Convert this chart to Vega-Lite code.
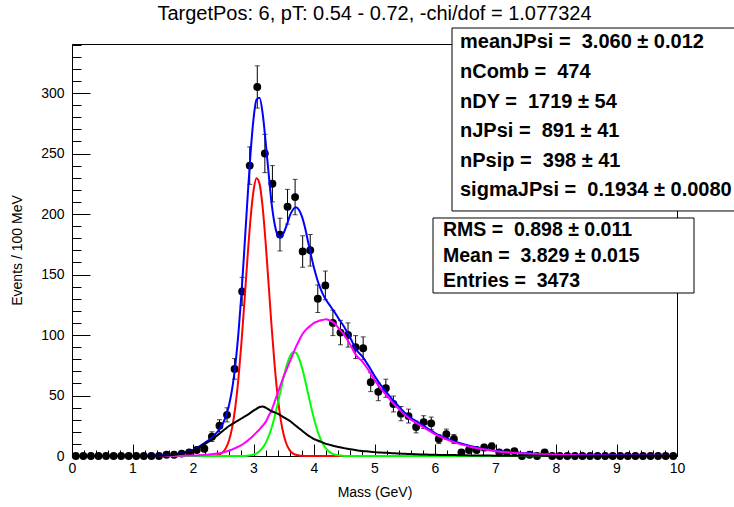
{
  "$schema": "https://vega.github.io/schema/vega-lite/v6.json",
  "autosize": "none",
  "width": 605,
  "height": 412,
  "padding": {"left": 72, "top": 44, "right": 57, "bottom": 51},
  "background": "white",
  "title": {"text": "TargetPos: 6, pT: 0.54 - 0.72, -chi/dof = 1.077324", "fontSize": 20, "fontWeight": "normal", "font": "Liberation Sans", "color": "black", "frame": "group", "anchor": "middle", "baseline": "alphabetic", "offset": 7, "dy": 19},
  "config": {
    "font": "Liberation Sans",
    "view": {"stroke": "black", "strokeWidth": 1},
    "axis": {"domainColor": "black", "tickColor": "black", "labelColor": "black", "titleColor": "black", "grid": false, "labelFont": "Liberation Sans", "titleFont": "Liberation Sans", "labelFontSize": 14, "titleFontSize": 14, "titleFontWeight": "normal", "tickWidth": 1, "domainWidth": 1, "labelFlush": false, "labelOverlap": false}
  },
  "datasets": {
    "hist": [
      {"m": 0.0625, "n": 0, "e": 0}, {"m": 0.1875, "n": 0, "e": 0}, {"m": 0.3125, "n": 0, "e": 0}, {"m": 0.4375, "n": 0, "e": 0},
      {"m": 0.5625, "n": 0, "e": 0}, {"m": 0.6875, "n": 0, "e": 0}, {"m": 0.8125, "n": 0, "e": 0}, {"m": 0.9375, "n": 0, "e": 0},
      {"m": 1.0625, "n": 0, "e": 0}, {"m": 1.1875, "n": 0, "e": 0}, {"m": 1.3125, "n": 0, "e": 0}, {"m": 1.4375, "n": 0, "e": 0},
      {"m": 1.5625, "n": 1, "e": 1}, {"m": 1.6875, "n": 1, "e": 1}, {"m": 1.8125, "n": 2, "e": 1.414}, {"m": 1.9375, "n": 3, "e": 1.732},
      {"m": 2.0625, "n": 5, "e": 2.236}, {"m": 2.1875, "n": 6, "e": 2.449}, {"m": 2.3125, "n": 16, "e": 4}, {"m": 2.4375, "n": 25, "e": 5},
      {"m": 2.5625, "n": 34, "e": 5.831}, {"m": 2.6875, "n": 72, "e": 8.485}, {"m": 2.8125, "n": 136, "e": 11.662}, {"m": 2.9375, "n": 240, "e": 15.492},
      {"m": 3.0625, "n": 305, "e": 17.464}, {"m": 3.1875, "n": 250, "e": 15.811}, {"m": 3.3125, "n": 225, "e": 15}, {"m": 3.4375, "n": 183, "e": 13.528},
      {"m": 3.5625, "n": 206, "e": 14.353}, {"m": 3.6875, "n": 214, "e": 14.629}, {"m": 3.8125, "n": 169, "e": 13}, {"m": 3.9375, "n": 170, "e": 13.038},
      {"m": 4.0625, "n": 130, "e": 11.402}, {"m": 4.1875, "n": 141, "e": 11.874}, {"m": 4.3125, "n": 110, "e": 10.488}, {"m": 4.4375, "n": 102, "e": 10.1},
      {"m": 4.5625, "n": 100, "e": 10}, {"m": 4.6875, "n": 90, "e": 9.487}, {"m": 4.8125, "n": 89, "e": 9.434}, {"m": 4.9375, "n": 61, "e": 7.81},
      {"m": 5.0625, "n": 53, "e": 7.28}, {"m": 5.1875, "n": 56, "e": 7.483}, {"m": 5.3125, "n": 43, "e": 6.557}, {"m": 5.4375, "n": 35, "e": 5.916},
      {"m": 5.5625, "n": 33, "e": 5.745}, {"m": 5.6875, "n": 24, "e": 4.899}, {"m": 5.8125, "n": 28, "e": 5.292}, {"m": 5.9375, "n": 27, "e": 5.196},
      {"m": 6.0625, "n": 14, "e": 3.742}, {"m": 6.1875, "n": 18, "e": 4.243}, {"m": 6.3125, "n": 14, "e": 3.742}, {"m": 6.4375, "n": 3, "e": 1.732},
      {"m": 6.5625, "n": 5, "e": 2.236}, {"m": 6.6875, "n": 5, "e": 2.236}, {"m": 6.8125, "n": 7, "e": 2.646}, {"m": 6.9375, "n": 8, "e": 2.828},
      {"m": 7.0625, "n": 3, "e": 1.732}, {"m": 7.1875, "n": 3, "e": 1.732}, {"m": 7.3125, "n": 4, "e": 2}, {"m": 7.4375, "n": 0, "e": 0},
      {"m": 7.5625, "n": 1, "e": 1}, {"m": 7.6875, "n": 0, "e": 0}, {"m": 7.8125, "n": 3, "e": 1.732}, {"m": 7.9375, "n": 0, "e": 0},
      {"m": 8.0625, "n": 0, "e": 0}, {"m": 8.1875, "n": 0, "e": 0}, {"m": 8.3125, "n": 0, "e": 0}, {"m": 8.4375, "n": 0, "e": 0},
      {"m": 8.5625, "n": 0, "e": 0}, {"m": 8.6875, "n": 0, "e": 0}, {"m": 8.8125, "n": 0, "e": 0}, {"m": 8.9375, "n": 0, "e": 0},
      {"m": 9.0625, "n": 0, "e": 0}, {"m": 9.1875, "n": 0, "e": 0}, {"m": 9.3125, "n": 0, "e": 0}, {"m": 9.4375, "n": 0, "e": 0},
      {"m": 9.5625, "n": 0, "e": 0}, {"m": 9.6875, "n": 0, "e": 0}, {"m": 9.8125, "n": 0, "e": 0}, {"m": 9.9375, "n": 0, "e": 0}
    ],
    "fit": [
      {"m": 0, "total": 0, "jpsi": 0, "psip": 0, "dy": 0, "comb": 0},
      {"m": 0.5, "total": 0, "jpsi": 0, "psip": 0, "dy": 0, "comb": 0},
      {"m": 1.0, "total": 0.05, "jpsi": 0, "psip": 0, "dy": 0, "comb": 0.05},
      {"m": 1.5, "total": 0.4, "jpsi": 0, "psip": 0, "dy": 0.1, "comb": 0.3},
      {"m": 1.7, "total": 1.2, "jpsi": 0, "psip": 0, "dy": 0.2, "comb": 1},
      {"m": 1.9, "total": 3.4, "jpsi": 0, "psip": 0, "dy": 0.4, "comb": 3},
      {"m": 2.0, "total": 5.0, "jpsi": 0, "psip": 0, "dy": 0.5, "comb": 4.5},
      {"m": 2.1, "total": 7.7, "jpsi": 0, "psip": 0, "dy": 0.7, "comb": 7},
      {"m": 2.2, "total": 11, "jpsi": 0, "psip": 0, "dy": 1, "comb": 10},
      {"m": 2.3, "total": 14.6, "jpsi": 0.1, "psip": 0, "dy": 1.5, "comb": 13},
      {"m": 2.4, "total": 19.7, "jpsi": 0.68, "psip": 0, "dy": 2, "comb": 17},
      {"m": 2.45, "total": 23.1, "jpsi": 1.59, "psip": 0, "dy": 2.5, "comb": 19},
      {"m": 2.5, "total": 27.5, "jpsi": 3.47, "psip": 0, "dy": 3, "comb": 21},
      {"m": 2.55, "total": 33.8, "jpsi": 7.1, "psip": 0, "dy": 3.7, "comb": 23},
      {"m": 2.6, "total": 43.1, "jpsi": 13.6, "psip": 0, "dy": 4.5, "comb": 25},
      {"m": 2.65, "total": 56.3, "jpsi": 24.3, "psip": 0, "dy": 5.5, "comb": 26.5},
      {"m": 2.7, "total": 75.2, "jpsi": 40.7, "psip": 0, "dy": 6.5, "comb": 28},
      {"m": 2.75, "total": 100.8, "jpsi": 63.6, "psip": 0, "dy": 7.7, "comb": 29.5},
      {"m": 2.8, "total": 133.5, "jpsi": 93.1, "psip": 0, "dy": 9, "comb": 31},
      {"m": 2.85, "total": 172, "jpsi": 127.4, "psip": 0.1, "dy": 10.7, "comb": 32.5},
      {"m": 2.9, "total": 212, "jpsi": 163.2, "psip": 0.3, "dy": 12.5, "comb": 34},
      {"m": 2.95, "total": 249.5, "jpsi": 195.5, "psip": 0.6, "dy": 14.7, "comb": 35.7},
      {"m": 3.0, "total": 278.5, "jpsi": 219, "psip": 1.24, "dy": 17, "comb": 37.5},
      {"m": 3.05, "total": 294.5, "jpsi": 229.5, "psip": 2.27, "dy": 19.5, "comb": 39},
      {"m": 3.1, "total": 296, "jpsi": 224.9, "psip": 3.99, "dy": 22, "comb": 40.5},
      {"m": 3.15, "total": 283.5, "jpsi": 206.2, "psip": 6.68, "dy": 25, "comb": 41},
      {"m": 3.2, "total": 260, "jpsi": 176.8, "psip": 10.66, "dy": 28, "comb": 40},
      {"m": 3.25, "total": 233.5, "jpsi": 141.8, "psip": 16.2, "dy": 33, "comb": 38.5},
      {"m": 3.3, "total": 208.5, "jpsi": 106.4, "psip": 23.6, "dy": 38, "comb": 37},
      {"m": 3.35, "total": 191.5, "jpsi": 74.7, "psip": 32.7, "dy": 45, "comb": 36},
      {"m": 3.4, "total": 182.5, "jpsi": 49, "psip": 43.2, "dy": 52, "comb": 35},
      {"m": 3.45, "total": 180.5, "jpsi": 30.1, "psip": 54.4, "dy": 59, "comb": 33.5},
      {"m": 3.5, "total": 184.5, "jpsi": 17.3, "psip": 65.4, "dy": 66, "comb": 32},
      {"m": 3.55, "total": 191, "jpsi": 9.3, "psip": 75.1, "dy": 72, "comb": 30.5},
      {"m": 3.6, "total": 198.5, "jpsi": 4.7, "psip": 82.1, "dy": 78, "comb": 29},
      {"m": 3.65, "total": 203.5, "jpsi": 2.2, "psip": 85.7, "dy": 84, "comb": 27},
      {"m": 3.7, "total": 205.5, "jpsi": 1.0, "psip": 85.3, "dy": 90, "comb": 25},
      {"m": 3.75, "total": 203.5, "jpsi": 0.4, "psip": 81, "dy": 95, "comb": 23},
      {"m": 3.8, "total": 198, "jpsi": 0.15, "psip": 73.3, "dy": 100, "comb": 21},
      {"m": 3.85, "total": 189, "jpsi": 0, "psip": 63.3, "dy": 103.5, "comb": 19},
      {"m": 3.9, "total": 177.5, "jpsi": 0, "psip": 52.2, "dy": 106, "comb": 17},
      {"m": 3.95, "total": 166, "jpsi": 0, "psip": 41, "dy": 108, "comb": 15.5},
      {"m": 4.0, "total": 155.5, "jpsi": 0, "psip": 30.7, "dy": 110, "comb": 14},
      {"m": 4.05, "total": 146.5, "jpsi": 0, "psip": 22, "dy": 111, "comb": 13},
      {"m": 4.1, "total": 139.3, "jpsi": 0, "psip": 15, "dy": 112, "comb": 12},
      {"m": 4.15, "total": 133.4, "jpsi": 0, "psip": 9.7, "dy": 112.5, "comb": 11},
      {"m": 4.2, "total": 129, "jpsi": 0, "psip": 6, "dy": 113, "comb": 10},
      {"m": 4.25, "total": 125.3, "jpsi": 0, "psip": 3.6, "dy": 112.3, "comb": 9.4},
      {"m": 4.3, "total": 121.7, "jpsi": 0, "psip": 2, "dy": 111, "comb": 8.7},
      {"m": 4.35, "total": 118.2, "jpsi": 0, "psip": 1.1, "dy": 109, "comb": 8.1},
      {"m": 4.4, "total": 114.1, "jpsi": 0, "psip": 0.56, "dy": 106, "comb": 7.5},
      {"m": 4.5, "total": 106.6, "jpsi": 0, "psip": 0.1, "dy": 100, "comb": 6.5},
      {"m": 4.6, "total": 97.5, "jpsi": 0, "psip": 0, "dy": 92, "comb": 5.5},
      {"m": 4.7, "total": 87.8, "jpsi": 0, "psip": 0, "dy": 83, "comb": 4.8},
      {"m": 4.8, "total": 82.2, "jpsi": 0, "psip": 0, "dy": 78, "comb": 4.2},
      {"m": 4.9, "total": 74.7, "jpsi": 0, "psip": 0, "dy": 71, "comb": 3.7},
      {"m": 5.0, "total": 66.2, "jpsi": 0, "psip": 0, "dy": 63, "comb": 3.2},
      {"m": 5.1, "total": 58.9, "jpsi": 0, "psip": 0, "dy": 56, "comb": 2.9},
      {"m": 5.2, "total": 52.6, "jpsi": 0, "psip": 0, "dy": 50, "comb": 2.6},
      {"m": 5.3, "total": 46.3, "jpsi": 0, "psip": 0, "dy": 44, "comb": 2.3},
      {"m": 5.4, "total": 41, "jpsi": 0, "psip": 0, "dy": 39, "comb": 2},
      {"m": 5.5, "total": 35.8, "jpsi": 0, "psip": 0, "dy": 34, "comb": 1.8},
      {"m": 5.6, "total": 31.6, "jpsi": 0, "psip": 0, "dy": 30, "comb": 1.6},
      {"m": 5.7, "total": 28.4, "jpsi": 0, "psip": 0, "dy": 27, "comb": 1.4},
      {"m": 5.8, "total": 25.25, "jpsi": 0, "psip": 0, "dy": 24, "comb": 1.25},
      {"m": 5.9, "total": 22.1, "jpsi": 0, "psip": 0, "dy": 21, "comb": 1.1},
      {"m": 6.0, "total": 19, "jpsi": 0, "psip": 0, "dy": 18, "comb": 1},
      {"m": 6.2, "total": 14.35, "jpsi": 0, "psip": 0, "dy": 13.5, "comb": 0.85},
      {"m": 6.4, "total": 10.7, "jpsi": 0, "psip": 0, "dy": 10, "comb": 0.7},
      {"m": 6.6, "total": 8, "jpsi": 0, "psip": 0, "dy": 7.5, "comb": 0.5},
      {"m": 6.8, "total": 5.9, "jpsi": 0, "psip": 0, "dy": 5.5, "comb": 0.4},
      {"m": 7.0, "total": 4.3, "jpsi": 0, "psip": 0, "dy": 4, "comb": 0.3},
      {"m": 7.2, "total": 3.25, "jpsi": 0, "psip": 0, "dy": 3, "comb": 0.25},
      {"m": 7.5, "total": 2.2, "jpsi": 0, "psip": 0, "dy": 2, "comb": 0.2},
      {"m": 8.0, "total": 1.1, "jpsi": 0, "psip": 0, "dy": 1, "comb": 0.1},
      {"m": 8.5, "total": 0.55, "jpsi": 0, "psip": 0, "dy": 0.5, "comb": 0.05},
      {"m": 9.0, "total": 0.32, "jpsi": 0, "psip": 0, "dy": 0.3, "comb": 0.02},
      {"m": 10.0, "total": 0.1, "jpsi": 0, "psip": 0, "dy": 0.1, "comb": 0}
    ]
  },
  "resolve": {"axis": {"x": "independent", "y": "independent"}},
  "layer": [
    {
      "data": {"name": "hist"},
      "transform": [{"filter": "datum.n > 0"}],
      "mark": {"type": "errorbar", "color": "black", "thickness": 1, "ticks": {"size": 5, "color": "black"}},
      "encoding": {
        "x": {"field": "m", "type": "quantitative", "scale": {"domain": [0, 10], "nice": false, "zero": false}, "axis": null},
        "y": {"field": "n", "type": "quantitative", "scale": {"domain": [0, 340.5], "nice": false}, "axis": null},
        "yError": {"field": "e"}
      }
    },
    {
      "data": {"name": "hist"},
      "mark": {"type": "point", "filled": true, "shape": "circle", "size": 62, "color": "black", "opacity": 1},
      "encoding": {
        "x": {"field": "m", "type": "quantitative", "scale": {"domain": [0, 10], "nice": false, "zero": false},
          "axis": {"orient": "bottom", "values": [0, 1, 2, 3, 4, 5, 6, 7, 8, 9, 10], "format": "d", "tickSize": -12, "labelPadding": 17, "title": "Mass (GeV)", "titlePadding": 10}},
        "y": {"field": "n", "type": "quantitative", "scale": {"domain": [0, 340.5], "nice": false},
          "axis": {"orient": "left", "values": [0, 50, 100, 150, 200, 250, 300], "format": "d", "tickSize": -18, "labelPadding": 26, "title": "Events / 100 MeV", "titlePadding": 16}}
      }
    },
    {
      "data": {"name": "fit"},
      "mark": {"type": "line", "color": "#0000ff", "strokeWidth": 2, "interpolate": "monotone"},
      "encoding": {
        "x": {"field": "m", "type": "quantitative", "scale": {"domain": [0, 10], "nice": false, "zero": false},
          "axis": {"orient": "bottom", "values": [0, 0.2, 0.4, 0.6, 0.8, 1, 1.2, 1.4, 1.6, 1.8, 2, 2.2, 2.4, 2.6, 2.8, 3, 3.2, 3.4, 3.6, 3.8, 4, 4.2, 4.4, 4.6, 4.8, 5, 5.2, 5.4, 5.6, 5.8, 6, 6.2, 6.4, 6.6, 6.8, 7, 7.2, 7.4, 7.6, 7.8, 8, 8.2, 8.4, 8.6, 8.8, 9, 9.2, 9.4, 9.6, 9.8, 10], "tickSize": -6, "labels": false, "domain": false, "title": null}},
        "y": {"field": "total", "type": "quantitative", "scale": {"domain": [0, 340.5], "nice": false},
          "axis": {"orient": "left", "values": [0, 10, 20, 30, 40, 50, 60, 70, 80, 90, 100, 110, 120, 130, 140, 150, 160, 170, 180, 190, 200, 210, 220, 230, 240, 250, 260, 270, 280, 290, 300, 310, 320, 330, 340], "tickSize": -9, "labels": false, "domain": false, "title": null}}
      }
    },
    {
      "data": {"name": "fit"},
      "mark": {"type": "line", "color": "#ff0000", "strokeWidth": 2, "interpolate": "monotone"},
      "encoding": {
        "x": {"field": "m", "type": "quantitative", "scale": {"domain": [0, 10], "nice": false, "zero": false}, "axis": null},
        "y": {"field": "jpsi", "type": "quantitative", "scale": {"domain": [0, 340.5], "nice": false}, "axis": null}
      }
    },
    {
      "data": {"name": "fit"},
      "mark": {"type": "line", "color": "#00ff00", "strokeWidth": 2, "interpolate": "monotone"},
      "encoding": {
        "x": {"field": "m", "type": "quantitative", "scale": {"domain": [0, 10], "nice": false, "zero": false}, "axis": null},
        "y": {"field": "psip", "type": "quantitative", "scale": {"domain": [0, 340.5], "nice": false}, "axis": null}
      }
    },
    {
      "data": {"name": "fit"},
      "mark": {"type": "line", "color": "#ff00ff", "strokeWidth": 2, "interpolate": "monotone"},
      "encoding": {
        "x": {"field": "m", "type": "quantitative", "scale": {"domain": [0, 10], "nice": false, "zero": false}, "axis": null},
        "y": {"field": "dy", "type": "quantitative", "scale": {"domain": [0, 340.5], "nice": false}, "axis": null}
      }
    },
    {
      "data": {"name": "fit"},
      "mark": {"type": "line", "color": "#000000", "strokeWidth": 2, "interpolate": "monotone"},
      "encoding": {
        "x": {"field": "m", "type": "quantitative", "scale": {"domain": [0, 10], "nice": false, "zero": false}, "axis": null},
        "y": {"field": "comb", "type": "quantitative", "scale": {"domain": [0, 340.5], "nice": false}, "axis": null}
      }
    },
    {
      "data": {"values": [{}]},
      "mark": {"type": "rect", "fill": "white", "stroke": "black", "strokeWidth": 1},
      "encoding": {
        "x": {"datum": 6.281, "type": "quantitative", "scale": {"domain": [0, 10], "nice": false, "zero": false}, "axis": null},
        "x2": {"datum": 11.2},
        "y": {"datum": 353.7, "type": "quantitative", "scale": {"domain": [0, 340.5], "nice": false}, "axis": null},
        "y2": {"datum": 202.5}
      }
    },
    {
      "data": {"values": [{}]},
      "mark": {"type": "text", "text": ["meanJPsi = \u00a03.060 ± 0.012", "nComb = \u00a0474", "nDY = \u00a01719 ± 54", "nJPsi = \u00a0891 ± 41", "nPsip = \u00a0398 ± 41", "sigmaJPsi = \u00a00.1934 ± 0.0080"], "lineHeight": 29.6, "align": "left", "baseline": "alphabetic", "fontSize": 20, "fontWeight": "bold", "font": "Liberation Sans", "color": "black"},
      "encoding": {
        "x": {"datum": 6.413, "type": "quantitative", "scale": {"domain": [0, 10], "nice": false, "zero": false}, "axis": null},
        "y": {"datum": 336.8, "type": "quantitative", "scale": {"domain": [0, 340.5], "nice": false}, "axis": null}
      }
    },
    {
      "data": {"values": [{}]},
      "mark": {"type": "rect", "fill": "white", "stroke": "black", "strokeWidth": 1},
      "encoding": {
        "x": {"datum": 5.967, "type": "quantitative", "scale": {"domain": [0, 10], "nice": false, "zero": false}, "axis": null},
        "x2": {"datum": 10.281},
        "y": {"datum": 196.7, "type": "quantitative", "scale": {"domain": [0, 340.5], "nice": false}, "axis": null},
        "y2": {"datum": 134.7}
      }
    },
    {
      "data": {"values": [{}]},
      "mark": {"type": "text", "text": ["RMS = \u00a00.898 ± 0.011", "Mean = \u00a03.829 ± 0.015", "Entries = \u00a03473"], "lineHeight": 25.5, "align": "left", "baseline": "alphabetic", "fontSize": 19.5, "fontWeight": "bold", "font": "Liberation Sans", "color": "black"},
      "encoding": {
        "x": {"datum": 6.132, "type": "quantitative", "scale": {"domain": [0, 10], "nice": false, "zero": false}, "axis": null},
        "y": {"datum": 181.5, "type": "quantitative", "scale": {"domain": [0, 340.5], "nice": false}, "axis": null}
      }
    }
  ]
}
